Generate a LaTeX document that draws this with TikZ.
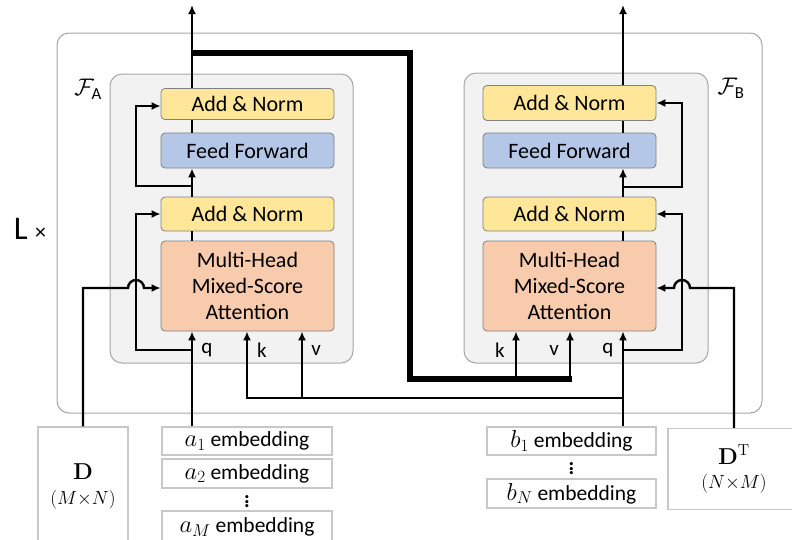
\RequirePackage{fix-cm}
\documentclass[tikz,border=0pt]{standalone}
\usepackage{amssymb}
\usepackage{amsmath}
\usepackage[no-math]{fontspec}
\setmainfont{Carlito}
\usetikzlibrary{arrows.meta}
\usetikzlibrary{calc,positioning}
\definecolor{normyellow}{HTML}{FFE699}
\definecolor{ffblue}{HTML}{B4C7E7}
\definecolor{attnorange}{HTML}{F8CBAD}
\definecolor{layergray}{HTML}{F2F2F2}
\definecolor{framegray}{HTML}{A6A6A6}
\definecolor{inputgray}{HTML}{C8C8C8}
\newcommand{\embsym}[1]{{\fontsize{24.5}{24}\selectfont$#1$}}
\newcommand{\stackdots}{\vbox{\baselineskip=4.5pt\lineskiplimit=0pt\hbox{\textbf{.}}\hbox{\textbf{.}}\hbox{\textbf{.}}}}

\begin{document}
\begin{tikzpicture}[x=1pt,y=-1pt,
  >={Latex[length=9pt,width=8pt]},
  line width=2.4pt]
    \tikzstyle{block}=[draw=gray, line width=0.8pt, rounded corners=4pt, minimum width=173pt, inner sep=0pt, font=\fontsize{22}{26}\selectfont]
    \tikzstyle{layer}=[draw=framegray, fill=layergray, line width=1pt, rounded corners=12pt, inner sep=0pt]
    \tikzstyle{inbox}=[draw=inputgray, fill=white, line width=1.2pt, inner sep=0pt, font=\fontsize{21.5}{24}\selectfont]
    \tikzstyle{lbl}=[inner sep=0pt, font=\fontsize{21}{24}\selectfont]
    \tikzstyle{dots}=[inner sep=0pt, font=\fontsize{21}{21}\selectfont]
    \tikzstyle{thickline}=[line width=5.5pt]

    \useasboundingbox (0,0) rectangle (792,539);

    % stack and the two layers
    \node[draw=framegray, line width=1pt, rounded corners=12pt, minimum width=705pt, minimum height=380pt] (stack) at (409.5,223) {};
    \node[layer, minimum width=243pt, minimum height=289pt] (FA) at (231.5,218.5) {};
    \node[layer, minimum width=244pt, minimum height=290pt] (FB) at (586,218) {};
    \node[lbl, font=\fontsize{33}{33}\selectfont] (times) at (30,229) {L {\fontsize{22}{22}\selectfont ×}};
    \node[lbl, font=\fontsize{24}{26}\selectfont] (labA) at (88,89) {$\mathcal{F}_{\text{A}}$};
    \node[lbl, font=\fontsize{24}{26}\selectfont] (labB) at (731,88) {$\mathcal{F}_{\text{B}}$};

    % layer A
    \node[block, fill=normyellow, minimum height=31pt]  (anA2) at (247.5,104)   {Add \& Norm};
    \node[block, fill=ffblue, minimum height=35pt]      (ffA)  at (247.5,150.5) {Feed Forward};
    \node[block, fill=normyellow, minimum height=34pt]  (anA1) at (247.5,214)   {Add \& Norm};
    \node[block, fill=attnorange, minimum height=90pt, align=center, font=\fontsize{22}{26}\selectfont]
                                                        (mhaA) at (247.5,286)   {Multi-Head\\Mixed-Score\\Attention};

    % layer B
    \node[block, fill=normyellow, minimum height=35pt]  (anB2) at (569.5,103)   {Add \& Norm};
    \node[block, fill=ffblue, minimum height=35pt]      (ffB)  at (569.5,150.5) {Feed Forward};
    \node[block, fill=normyellow, minimum height=34pt]  (anB1) at (569.5,214)   {Add \& Norm};
    \node[block, fill=attnorange, minimum height=90pt, align=center, font=\fontsize{22}{26}\selectfont]
                                                        (mhaB) at (569.5,286)   {Multi-Head\\Mixed-Score\\Attention};

    % inputs
    \node[inbox, minimum width=90pt, minimum height=118pt, align=center] (D) at (83,486)
      {{\fontsize{23}{24}\selectfont$\mathbf{D}$}\\[1pt]{\fontsize{19}{20}\selectfont$(M{\times}N)$}};
    \node[inbox, minimum width=132pt, minimum height=81pt, align=center] (DT) at (734,469)
      {{\fontsize{23}{24}\selectfont$\mathbf{D}^{\mathrm{T}}$}\\[0pt]{\fontsize{19}{20}\selectfont$(N{\times}M)$}};
    \node[inbox, minimum width=170pt, minimum height=28pt] (emA1) at (247,441)   {\embsym{a_1} embedding};
    \node[inbox, minimum width=170pt, minimum height=29pt] (emA2) at (247,473.5) {\embsym{a_2} embedding};
    \node[dots] (dotsA) at (247,502) {\stackdots};
    \node[inbox, minimum width=170pt, minimum height=32pt] (emAM) at (247,527)   {\embsym{a_M} embedding};
    \node[inbox, minimum width=169pt, minimum height=28pt] (emB1) at (571.5,441)   {\embsym{b_1} embedding};
    \node[dots] (dotsB) at (571.5,469) {\stackdots};
    \node[inbox, minimum width=169pt, minimum height=29pt] (emBN) at (571.5,493.5) {\embsym{b_N} embedding};

    % q k v
    \node[lbl] (qA) at (207,350) {q};
    \node[lbl] (kA) at (262,350) {k};
    \node[lbl] (vA) at (316,350) {v};
    \node[lbl] (kB) at (500,350) {k};
    \node[lbl] (vB) at (554,350) {v};
    \node[lbl] (qB) at (608,350) {q};

    \coordinate (outA) at (192,5);
    \coordinate (outB) at (623,5);
    \coordinate (resA1) at (136,214);
    \coordinate (resA2) at (136,106);
    \coordinate (resB1) at (682,214);
    \coordinate (resB2) at (682,103);

    % layer A connections
    \draw[->] (emA1.north -| outA) -- (mhaA.south -| outA);
    \draw[->] (192,350) -| (resA1) -- (anA1.west);
    \draw     (mhaA.north -| outA) -- (anA1.south -| outA);
    \draw[->] (anA1.north -| outA) -- (ffA.south -| outA);
    \draw[->] (192,186) -| (resA2) -- (anA2.west |- resA2);
    \draw     (ffA.north -| outA) -- (anA2.south -| outA);
    \draw[->] (anA2.north -| outA) -- (outA);
    \draw[->] (D.north) |- (128,288) arc (180:360:8) -- (mhaA.west |- 0,288);

    % layer B connections
    \draw[->] (emB1.north -| outB) -- (mhaB.south -| outB);
    \draw[->] (623,350) -| (resB1) -- (anB1.east);
    \draw     (mhaB.north -| outB) -- (anB1.south -| outB);
    \draw[->] (anB1.north -| outB) -- (ffB.south -| outB);
    \draw[->] (623,187) -| (resB2) -- (anB2.east |- resB2);
    \draw     (ffB.north -| outB) -- (anB2.south -| outB);
    \draw[->] (anB2.north -| outB) -- (outB);
    \draw[->] (DT.north) |- (690,288) arc (0:-180:8) -- (mhaB.east |- 0,288);

    % A output to k,v of B
    \draw[thickline] (192,53) -| (410,379) -- (572,379);
    \draw[->] (516,379) -- (mhaB.south -| 516,0);
    \draw[->] (570,379) -- (mhaB.south -| 570,0);

    % b input to k,v of A
    \draw[->] (623,398) -| (mhaA.south -| 247,0);
    \draw[->] (302,398) -- (mhaA.south -| 302,0);

\end{tikzpicture}
\end{document}
